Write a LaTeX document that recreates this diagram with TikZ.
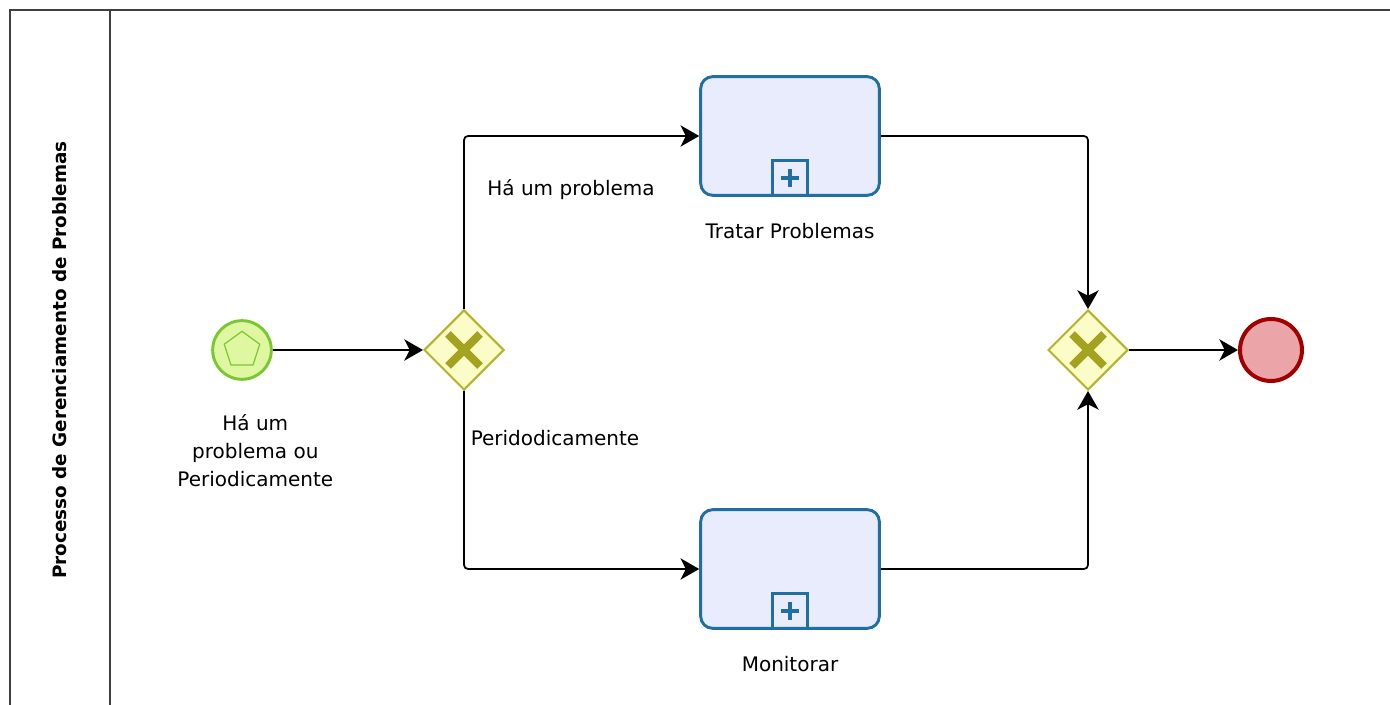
\documentclass[tikz,border=0pt]{standalone}
\usepackage{fontspec}
\setmainfont{DejaVu Sans}
\usetikzlibrary{shapes.geometric, arrows.meta, positioning}
\definecolor{taskfill}{HTML}{E8ECFC}
\definecolor{taskline}{HTML}{1F6FA5}
\definecolor{startfill}{HTML}{DFF7A0}
\definecolor{startline}{HTML}{78C832}
\definecolor{endfill}{HTML}{EBA5A8}
\definecolor{endline}{HTML}{A00000}
\definecolor{gatefill}{HTML}{FCFCC8}
\definecolor{gateline}{HTML}{B4B42A}
\definecolor{gatex}{HTML}{A3A31F}
\definecolor{poolline}{HTML}{404040}
\tikzset{
	startev/.style={draw=startline, circle, line width=2.2pt, fill=startfill, minimum size=44pt, inner sep=0pt,
		path picture={\draw[startline, line width=0.9pt]
			([shift={(90:14pt)}]path picture bounding box.center) -- ([shift={(162:14pt)}]path picture bounding box.center)
			-- ([shift={(234:14pt)}]path picture bounding box.center) -- ([shift={(306:14pt)}]path picture bounding box.center)
			-- ([shift={(18:14pt)}]path picture bounding box.center) -- cycle;}},
	endev/.style={draw=endline, circle, line width=3pt, fill=endfill, minimum size=46.5pt, inner sep=0pt},
	gateway/.style={draw=gateline, diamond, aspect=1, line width=1.5pt, fill=gatefill, minimum width=60pt, minimum height=60pt, inner sep=0pt,
		path picture={\draw[gatex, line width=6pt]
			([shift={(-12pt,-12pt)}]path picture bounding box.center) -- ([shift={(12pt,12pt)}]path picture bounding box.center)
			([shift={(-12pt,12pt)}]path picture bounding box.center) -- ([shift={(12pt,-12pt)}]path picture bounding box.center);}},
	subtask/.style={draw=taskline, rectangle, rounded corners=9pt, line width=2.2pt, fill=taskfill, minimum width=134pt, minimum height=89pt,
		path picture={\draw[taskline, line width=1.8pt, sharp corners]
			([xshift=-13pt]path picture bounding box.south) rectangle ([xshift=13pt, yshift=26pt]path picture bounding box.south);
			\draw[taskline, line width=3.6pt]
			([xshift=-6.5pt, yshift=13pt]path picture bounding box.south) -- ([xshift=6.5pt, yshift=13pt]path picture bounding box.south)
			([yshift=6.5pt]path picture bounding box.south) -- ([yshift=19.5pt]path picture bounding box.south);}},
	lbl/.style={inner sep=0pt, align=center, font=\fontsize{15}{21}\selectfont},
	% pool frame and its title
	pool/.style={draw=poolline, line width=1.5pt},
	pooltitle/.style={inner sep=0pt, rotate=90, font=\bfseries\fontsize{13.8}{16}\selectfont}
}
\begin{document}
\begin{tikzpicture}[x=0.75pt, y=-0.75pt]
	\useasboundingbox (0,0) rectangle (1390,705);
	\draw[pool] (10,705) -- (10,10) -- (1390,10);
	\draw[pool] (110,10) -- (110,705);
	\node (title) [pooltitle] at (60,360) {Processo de Gerenciamento de Problemas};
	
	\node (start) [startev] at (242,350) {};
	\node (g1) [gateway] at (464,350) {};
	\node (t1) [subtask] at (790,136) {};
	\node (t2) [subtask] at (790,569) {};
	\node (g2) [gateway] at (1088,350) {};
	\node (end) [endev] at (1271,350) {};
	
	\node (startlbl) [lbl, below=25pt of start, xshift=10pt] {Há um\\problema ou\\Periodicamente};
	\node (t1lbl) [lbl, below=20pt of t1] {Tratar Problemas};
	\node (t2lbl) [lbl, below=20pt of t2] {Monitorar};
	\node (yeslbl) [lbl] at (571,190) {Há um problema};
	\node (perlbl) [lbl] at (555,438) {Peridodicamente};
	
	\begin{scope}[line width=1.3pt, black, ->, >={Stealth[length=14pt, width=16pt, inset=4pt]}, rounded corners=3pt]
		\draw (start) -- (g1);
		\draw (g1.north) |- (t1.west);
		\draw (g1.south) |- (t2.west);
		\draw (t1.east) -| (g2.north);
		\draw (t2.east) -| (g2.south);
		\draw (g2) -- (end);
	\end{scope}
\end{tikzpicture}
\end{document}
